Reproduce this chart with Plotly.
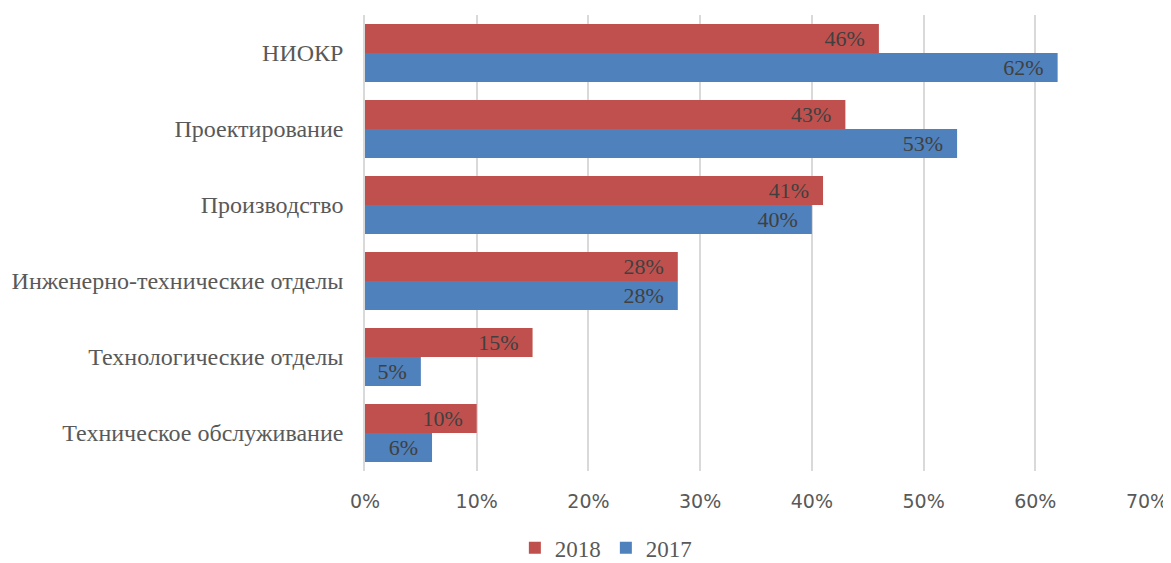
import plotly.graph_objects as go

categories = ["НИОКР", "Проектирование", "Производство", "Инженерно-технические отделы",
              "Технологические отделы", "Техническое обслуживание"]
values_2018 = [0.46, 0.43, 0.41, 0.28, 0.15, 0.10]
values_2017 = [0.62, 0.53, 0.40, 0.28, 0.05, 0.06]
x_ticks = [0, 0.1, 0.2, 0.3, 0.4, 0.5, 0.6, 0.7]

fig = go.Figure()
for name, vals, color in [("2018", values_2018, "#C0504D"), ("2017", values_2017, "#4F81BD")]:
    fig.add_trace(go.Bar(
        y=categories, x=vals, name=name, orientation="h",
        marker=dict(color=color, line=dict(width=0)),
        text=[f"{round(v*100)}%\u00a0\u00a0" for v in vals],
        textposition="inside", insidetextanchor="end", constraintext="none",
        textfont=dict(family="Liberation Serif", size=22, color="#404040"),
        hoverinfo="skip",
    ))

fig.update_layout(
    width=1163, height=555,
    margin=dict(l=357, r=24, t=7, b=92, autoexpand=False),
    barmode="group", bargap=0.24, bargroupgap=0,
    plot_bgcolor="white", paper_bgcolor="white",
    showlegend=True,
    legend=dict(orientation="h", x=0.308, xanchor="center", y=-0.121, yanchor="top",
                font=dict(family="Liberation Serif", size=23, color="#595959"),
                itemwidth=30, traceorder="normal"),
    xaxis=dict(range=[0, 0.7], tickvals=x_ticks, tickformat=".0%",
               showgrid=True, gridcolor="#d9d9d9", gridwidth=1.5,
               zeroline=False, showline=False, ticks="", automargin=False,
               ticklabelstandoff=17,
               tickfont=dict(family="DejaVu Sans", size=19, color="#595959")),
    yaxis=dict(autorange="reversed", showgrid=False, zeroline=False, automargin=False,
               showline=True, linecolor="#d9d9d9", linewidth=1.5, ticks="",
               ticklabelstandoff=15,
               tickfont=dict(family="Liberation Serif", size=24, color="#595959")),
)
fig.write_html("out.html")
